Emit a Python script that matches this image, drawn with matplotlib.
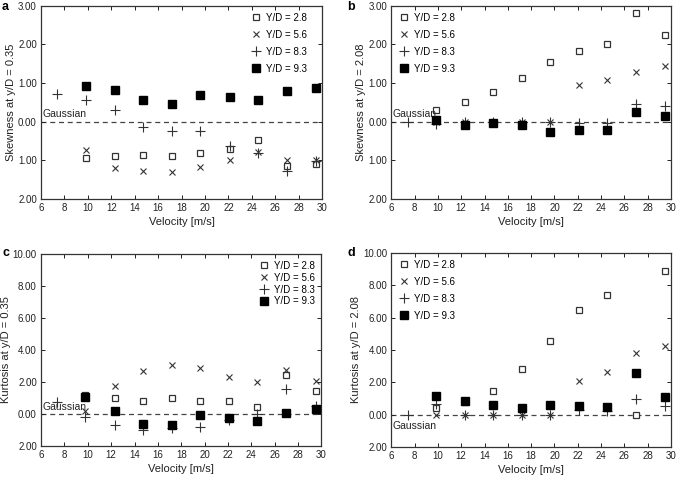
import matplotlib
matplotlib.use("Agg")
import matplotlib.pyplot as plt
from matplotlib.ticker import FuncFormatter, MultipleLocator

plt.rcParams["font.family"] = ["Liberation Sans", "DejaVu Sans"]

velocity = [7.4, 9.8, 12.3, 14.7, 17.2, 19.6, 22.1, 24.5, 27.0, 29.5]
series_names = ["Y/D = 2.8", "Y/D = 5.6", "Y/D = 8.3", "Y/D = 9.3"]

# panel a: skewness at y/D = 0.35 (None = no point)
skew_a_28 = [None, -0.93, -0.90, -0.87, -0.88, -0.80, -0.70, -0.48, -1.15, -1.10]
skew_a_56 = [None, -0.73, -1.19, -1.28, -1.31, -1.18, -0.99, -0.79, -0.99, -1.00]
skew_a_83 = [0.72, 0.57, 0.31, -0.15, -0.24, -0.24, -0.63, -0.80, -1.28, -1.02]
skew_a_93 = [None, 0.91, 0.83, 0.57, 0.45, 0.69, 0.64, 0.57, 0.80, 0.86]

# panel b: skewness at y/D = 2.08
skew_b_28 = [None, 0.31, 0.52, 0.77, 1.14, 1.54, 1.82, 2.02, 2.81, 2.24]
skew_b_56 = [None, 0.00, 0.00, 0.00, 0.00, 0.00, 0.94, 1.08, 1.28, 1.45]
skew_b_83 = [0.00, -0.07, 0.00, 0.00, 0.00, 0.00, -0.03, -0.03, 0.46, 0.41]
skew_b_93 = [None, 0.03, -0.09, -0.04, -0.10, -0.27, -0.23, -0.23, 0.26, 0.14]

# panel c: kurtosis at y/D = 0.35
kurt_c_28 = [None, 1.20, 1.00, 0.79, 1.00, 0.79, 0.83, 0.46, 2.44, 1.44]
kurt_c_56 = [None, 0.17, 1.73, 2.69, 3.06, 2.85, 2.31, 1.98, 2.73, 2.06]
kurt_c_83 = [0.73, -0.19, -0.71, -0.98, -0.87, -0.81, -0.35, 0.00, 1.56, 0.48]
kurt_c_93 = [None, 1.08, 0.17, -0.60, -0.67, -0.04, -0.25, -0.42, 0.04, 0.29]

# panel d: kurtosis at y/D = 2.08
kurt_d_28 = [None, 0.43, 0.80, 1.47, 2.82, 4.55, 6.48, 7.37, 0.00, 8.88]
kurt_d_56 = [None, 0.00, 0.00, 0.00, 0.00, 0.00, 2.09, 2.63, 3.81, 4.27]
kurt_d_83 = [0.00, 0.68, 0.00, 0.00, 0.00, 0.00, 0.27, 0.20, 0.99, 0.52]
kurt_d_93 = [None, 1.16, 0.81, 0.58, 0.39, 0.60, 0.56, 0.48, 2.59, 1.10]

styles = [
    dict(marker="s", mfc="white", mec="#333333", ms=5, mew=0.9),
    dict(marker="x", color="#333333", ms=4.2, mew=0.8),
    dict(marker="+", color="#333333", ms=7, mew=0.8),
    dict(marker="s", mfc="black", mec="black", ms=5.5),
]

fig = plt.figure(figsize=(6.84, 4.78), dpi=100)

panels = [
    ("a", [0.060, 0.584, 0.411, 0.404], [skew_a_28, skew_a_56, skew_a_83, skew_a_93],
     (-2, 3), 1, "Skewness at y/D = 0.35", "upper right", (0.97, 1.0), 0.72, "above",
     (0.003, 0.998)),
    ("b", [0.572, 0.584, 0.409, 0.404], [skew_b_28, skew_b_56, skew_b_83, skew_b_93],
     (-2, 3), 1, "Skewness at y/D = 2.08", "upper left", (0.0, 1.0), 0.72, "above",
     (0.508, 0.998)),
    ("c", [0.060, 0.067, 0.410, 0.402], [kurt_c_28, kurt_c_56, kurt_c_83, kurt_c_93],
     (-2, 10), 2, "Kurtosis at y/D = 0.35", "upper right", (1.0, 1.0), 0.2, "above",
     (0.003, 0.483)),
    ("d", [0.572, 0.065, 0.409, 0.406], [kurt_d_28, kurt_d_56, kurt_d_83, kurt_d_93],
     (-2, 10), 2, "Kurtosis at y/D = 2.08", "upper left", (0.0, 1.0), 0.72, "below",
     (0.508, 0.483)),
]

for letter, rect, data, ylim, ystep, ylabel, loc, anchor, spacing, gpos, lpos in panels:
    ax = fig.add_axes(rect)
    ax.axhline(0, color="#444444", lw=0.9, ls=(0, (4, 3)), zorder=1)
    for name, vals, st in zip(series_names, data, styles):
        xs = [v for v, y in zip(velocity, vals) if y is not None]
        ys = [y for y in vals if y is not None]
        ax.plot(xs, ys, ls="none", label=name, zorder=3, **st)
    ax.set_xlim(6, 30)
    ax.set_ylim(*ylim)
    ax.xaxis.set_major_locator(MultipleLocator(2))
    ax.yaxis.set_major_locator(MultipleLocator(ystep))
    ax.yaxis.set_major_formatter(FuncFormatter(lambda v, p: f"{abs(v):.2f}"))
    ax.tick_params(direction="in", top=True, right=True, labelsize=7,
                   length=3, width=0.7, colors="#222222", pad=3)
    for s in ax.spines.values():
        s.set_color("#333333")
        s.set_linewidth(0.9)
    ax.set_xlabel("Velocity [m/s]", fontsize=8, color="#222222", labelpad=3)
    ax.set_ylabel(ylabel, fontsize=8, color="#222222", labelpad=1.5)
    if gpos == "above":
        ax.text(6.1, 0.06 * ystep, "Gaussian", fontsize=7.5, color="#222222",
                va="bottom", ha="left")
    else:
        ax.text(6.1, -0.2 * ystep, "Gaussian", fontsize=7.5, color="#222222",
                va="top", ha="left")
    ax.legend(loc=loc, bbox_to_anchor=anchor, frameon=False, fontsize=7,
              labelspacing=spacing, handletextpad=0.4, handlelength=1.2,
              borderaxespad=0.3)
    fig.text(lpos[0], lpos[1], letter, fontsize=9, fontweight="bold",
             va="top", ha="left")

fig.savefig("out.png", dpi=100)
